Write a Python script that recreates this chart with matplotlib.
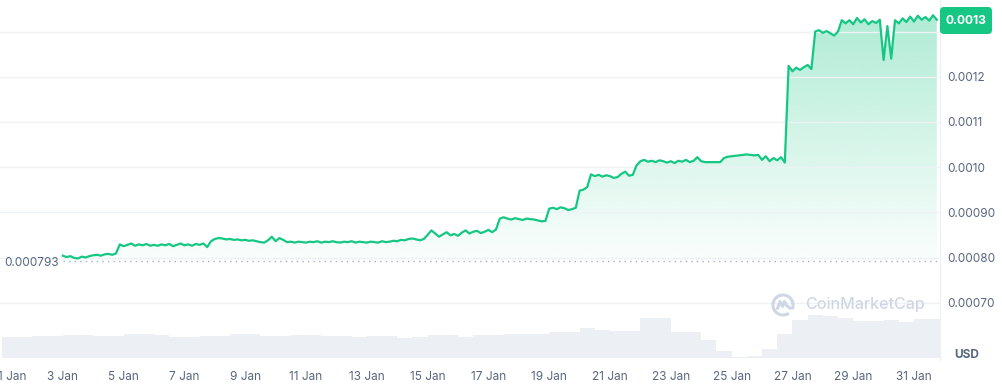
import numpy as np
import matplotlib
matplotlib.use('Agg')
import matplotlib.pyplot as plt
from matplotlib.patches import FancyBboxPatch, Arc, Polygon
from matplotlib.transforms import IdentityTransform, offset_copy
from matplotlib.colors import to_rgb

plt.rcParams['font.family'] = ['Inter', 'DejaVu Sans']

# ---------------- data ----------------
price_start_day = 3.0
price_step_days = 0.125
price_micro_usd = [
    804, 801, 803, 799, 798, 802, 800, 803,       # 3 Jan
    805, 806, 804, 807, 808, 806, 809, 829,       # 4 Jan
    825, 828, 831, 826, 829, 827, 830, 826,       # 5 Jan
    828, 826, 829, 827, 830, 825, 828, 831,       # 6 Jan
    827, 829, 826, 830, 828, 831, 823, 836,       # 7 Jan
    841, 843, 842, 840, 841, 839, 840, 838,       # 8 Jan
    839, 837, 838, 836, 834, 833, 838, 846,       # 9 Jan
    836, 843, 839, 834, 835, 833, 835, 834,       # 10 Jan
    833, 835, 834, 836, 833, 835, 834, 836,       # 11 Jan
    834, 833, 835, 834, 836, 833, 835, 834,       # 12 Jan
    833, 835, 834, 833, 836, 834, 835, 837,       # 13 Jan
    836, 839, 838, 841, 842, 840, 838, 841,       # 14 Jan
    850, 860, 853, 846, 851, 856, 849, 852,       # 15 Jan
    848, 855, 860, 853, 857, 859, 854, 857,       # 16 Jan
    861, 856, 862, 886, 889, 886, 884, 887,       # 17 Jan
    885, 883, 886, 885, 884, 882, 880, 881,       # 18 Jan
    908, 910, 907, 911, 909, 905, 907, 910,       # 19 Jan
    948, 950, 956, 984, 980, 983, 979, 982,       # 20 Jan
    980, 976, 978, 985, 990, 981, 983, 1004,      # 21 Jan
    1013, 1016, 1012, 1014, 1011, 1015, 1013, 1010,  # 22 Jan
    1013, 1009, 1014, 1012, 1016, 1011, 1014, 1022,  # 23 Jan
    1013, 1011, 1011, 1011, 1011, 1011, 1020, 1023,  # 24 Jan
    1024, 1025, 1026, 1027, 1028, 1027, 1026, 1027,  # 25 Jan
    1016, 1024, 1013, 1020, 1015, 1022, 1010, 1224,  # 26 Jan
    1212, 1220, 1215, 1221, 1226, 1217, 1300, 1303,  # 27 Jan
    1297, 1301, 1296, 1291, 1300, 1325, 1318, 1325,  # 28 Jan
    1316, 1330, 1320, 1327, 1316, 1323, 1319, 1326,  # 29 Jan
    1237, 1312, 1240, 1325, 1318, 1329, 1321, 1333,  # 30 Jan
    1322, 1335, 1326, 1332, 1324, 1336, 1326,        # 31 Jan
]

volume_start_day = 1.0
volume_step_days = 0.5
volume_rel = [21, 21, 22, 22, 23, 23, 22, 22, 24, 24,
              23, 21, 21, 22, 22, 24, 24, 22, 22, 23,
              23, 22, 22, 21, 22, 22, 20, 21, 23, 23,
              21, 23, 23, 24, 24, 24, 26, 26, 30, 28,
              27, 27, 40, 40, 26, 26, 18, 7, 1, 2,
              9, 24, 38, 43, 42, 40, 37, 37, 38, 36, 39, 39]

open_price = 0.000793
open_price_label = '0.000793'
last_price_label = '0.0013'
ytick_values = [0.0007, 0.0008, 0.0009, 0.0010, 0.0011, 0.0012, 0.0013]
ytick_labels = ['0.00070', '0.00080', '0.00090', '0.0010', '0.0011', '0.0012', '']
xtick_days = list(range(3, 32, 2))
xtick_labels = [f'{d} Jan' for d in xtick_days]
first_xlabel_day = 1
first_xlabel = '1 Jan'

# ---------------- style ----------------
GREEN = '#16c784'
GRAY_TXT = '#58667e'
GRID = '#eff2f5'
VOL = '#eceff3'

W, H = 1003, 390
fig = plt.figure(figsize=(W / 100, H / 100), dpi=100)
fig.patch.set_facecolor('white')

def fy(y):
    return 1 - y / H

days = price_start_day + price_step_days * np.arange(len(price_micro_usd))
prices = np.array(price_micro_usd) * 1e-6
vdays = volume_start_day + volume_step_days * np.arange(len(volume_rel))

rect = [0, fy(360), 940 / W, 360 / H]
xl = (1 - 2 / 30.4, 1 + 938 / 30.4)
s = 0.0001 / 45.2
ylim = (0.0007 - (360 - 302.7) * s, 0.0013 + 31.5 * s)

# volume axes (behind)
axv = fig.add_axes(rect, zorder=0)
axv.bar(vdays, volume_rel, width=volume_step_days, align='edge', color=VOL, lw=0)
axv.set_xlim(*xl)
axv.set_ylim(-2, 358)
axv.axis('off')

# price axes
ax = fig.add_axes(rect, zorder=1)
ax.patch.set_alpha(0)
ax.set_xlim(*xl)
ax.set_ylim(*ylim)

# gradient fill between line and open price
verts = [(days[0], open_price)] + list(zip(days, prices)) + [(days[-1], open_price)]
clip = Polygon(verts, closed=True, facecolor='none', edgecolor='none')
ax.add_patch(clip)
rgb = to_rgb(GREEN)
n = 256
grad = np.zeros((n, 1, 4))
grad[:, 0, 0:3] = rgb
grad[:, 0, 3] = np.linspace(0.02, 0.34, n)
im = ax.imshow(grad, extent=[days[0], days[-1], open_price, prices.max()],
               origin='lower', aspect='auto', zorder=0.2, interpolation='bilinear')
im.set_clip_path(clip)

ax.set_yticks(ytick_values)
ax.set_yticklabels(ytick_labels)
ax.grid(axis='y', color=GRID, lw=1, zorder=0.5)
ax.set_axisbelow(True)

ax.hlines(open_price, days[0], xl[1], colors='#a6b0c3', linestyles=(0, (1, 3)), lw=1, zorder=1)
ax.plot(days, prices, color=GREEN, lw=1.6, zorder=3, solid_joinstyle='round')

ax.yaxis.tick_right()
ax.tick_params(axis='y', length=0, pad=5, labelsize=8.5, labelcolor=GRAY_TXT)
ax.set_xticks(xtick_days)
ax.set_xticklabels(xtick_labels)
ax.tick_params(axis='x', length=0, pad=8, labelsize=8.5, labelcolor=GRAY_TXT)
for side in ['top', 'left', 'bottom']:
    ax.spines[side].set_visible(False)
ax.spines['right'].set_color(GRID)
ax.spines['right'].set_linewidth(1)

# first (partially clipped) date label
ax.text(first_xlabel_day, 0, first_xlabel, transform=offset_copy(
    ax.get_xaxis_transform(), fig=fig, x=10, y=-17, units='dots'),
    ha='center', va='center', fontsize=8.5, color=GRAY_TXT, clip_on=False)

# open-price label
fig.text(4 / W, fy(263), open_price_label, ha='left', va='center',
         fontsize=8.5, color=GRAY_TXT)

# last-price badge
badge = FancyBboxPatch((940, H - 34), 52, 27, boxstyle='round,pad=0,rounding_size=4',
                       transform=IdentityTransform(), facecolor=GREEN, edgecolor='none')
fig.patches.append(badge)
fig.text(966 / W, fy(20.5), last_price_label, ha='center', va='center',
         fontsize=8.7, fontweight='bold', color='white')

# currency label
fig.text(967 / W, fy(355), 'USD', ha='center', va='center', fontsize=8.5,
         fontweight='bold', color=GRAY_TXT)

# watermark
WM = '#cfd6e4'
fig.text(805 / W, fy(305), 'CoinMarketCap', ha='left', va='center',
         fontsize=11.6, color=WM, fontweight='medium')
lax = fig.add_axes([771 / W, fy(317), 24 / W, 24 / H], zorder=2)
lax.set_xlim(-1.2, 1.2)
lax.set_ylim(-1.2, 1.2)
lax.axis('off')
lax.add_patch(Arc((0, 0), 2.0, 2.0, theta1=-25, theta2=305, color=WM, lw=2.2))
lax.plot([-0.55, -0.3, -0.05, 0.15, 0.35, 0.75],
         [-0.35, 0.35, -0.15, 0.35, -0.05, -0.35], color=WM, lw=2.2,
         solid_joinstyle='round', solid_capstyle='round')

fig.savefig('out.png', dpi=100, facecolor='white')
